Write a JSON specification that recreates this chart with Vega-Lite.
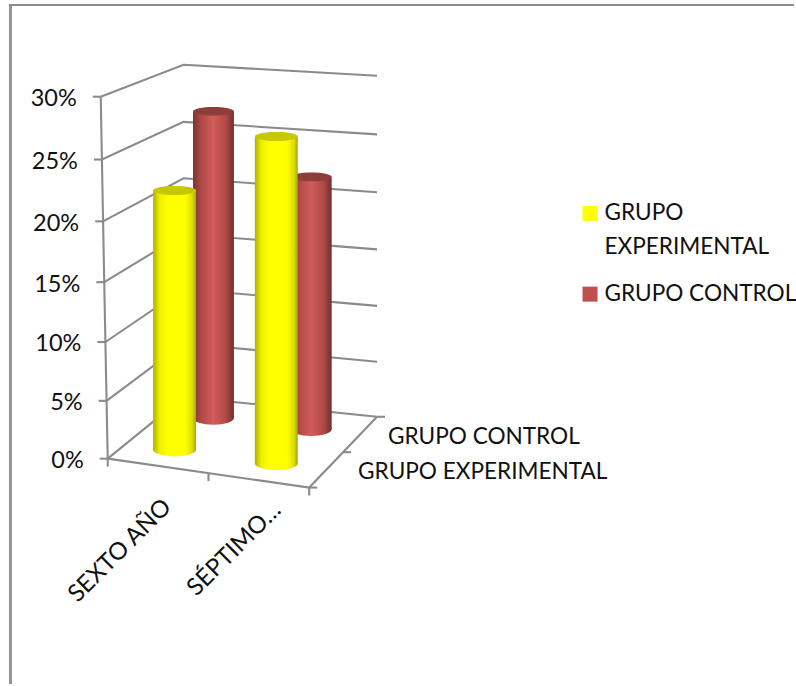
{
  "$schema": "https://vega.github.io/schema/vega-lite/v6.json",
  "autosize": {"type": "fit", "contains": "padding"},
  "width": 796,
  "height": 686,
  "background": "white",
  "padding": 0,
  "config": {"view": {"stroke": null}, "text": {"font": "Lato", "fontSize": 22.6, "color": "#111111"}},
  "datasets": {
    "niveles": [{"pct": 0}, {"pct": 5}, {"pct": 10}, {"pct": 15}, {"pct": 20}, {"pct": 25}, {"pct": 30}],
    "barras": [
      {"categoria": "SEXTO AÑO", "grupo": "GRUPO EXPERIMENTAL", "valor": 22},
      {"categoria": "SEXTO AÑO", "grupo": "GRUPO CONTROL", "valor": 27},
      {"categoria": "SÉPTIMO…", "grupo": "GRUPO EXPERIMENTAL", "valor": 27},
      {"categoria": "SÉPTIMO…", "grupo": "GRUPO CONTROL", "valor": 22}
    ]
  },
  "data": {"name": "niveles"},
  "transform": [
    {"calculate": "[{e:'FL',u:0,d:0,o:0},{e:'BL',u:0,d:1,o:1},{e:'BR',u:1,d:1,o:2},{e:'FR',u:1,d:0,o:3},{e:'FM',u:0.5,d:0,o:4},{e:'RM',u:1,d:0.5,o:5}]", "as": "c"},
    {"flatten": ["c"]},
    {"calculate": "datum.c.e", "as": "e"},
    {"calculate": "datum.c.u", "as": "u"},
    {"calculate": "datum.c.d", "as": "d"},
    {"calculate": "datum.c.o", "as": "o"},
    {"calculate": "datum.pct/5", "as": "n"},
    {"calculate": "(1-datum.d)*(57.5+2.5*datum.u)+datum.d*(53.4+1.5*datum.u)", "as": "a"},
    {"calculate": "0.5-0.15*datum.d", "as": "b"},
    {"calculate": "(1-datum.d)*(108+202*datum.u)+datum.d*(184+194*datum.u)-7*(1-datum.d)*(1-datum.u)*datum.pct/30", "as": "X"},
    {"calculate": "(1-datum.d)*(460+29*datum.u)+datum.d*(398+20*datum.u)-(datum.a*datum.n+datum.b*datum.n*datum.n)", "as": "Y"}
  ],
  "encoding": {
    "x": {"field": "X", "type": "quantitative", "axis": null, "scale": {"domain": [0, 796], "nice": false, "zero": false}},
    "y": {"field": "Y", "type": "quantitative", "axis": null, "scale": {"domain": [686, 0], "nice": false, "zero": false}}
  },
  "layer": [
    {
      "transform": [{"filter": "datum.pct==0 && datum.e=='FL'"}, {"calculate": "10.5", "as": "Xm"}, {"calculate": "4", "as": "Ya"}, {"calculate": "686", "as": "Yb"}],
      "mark": {"type": "rule", "stroke": "#959595", "strokeWidth": 3},
      "encoding": {"x": {"field": "Xm", "type": "quantitative"}, "y": {"field": "Ya", "type": "quantitative"}, "y2": {"field": "Yb"}}
    },
    {
      "transform": [{"filter": "datum.pct==0 && datum.e=='FL'"}, {"calculate": "5", "as": "Ym"}, {"calculate": "9", "as": "Xa"}, {"calculate": "796", "as": "Xb"}],
      "mark": {"type": "rule", "stroke": "#8c8c8c", "strokeWidth": 2},
      "encoding": {"y": {"field": "Ym", "type": "quantitative"}, "x": {"field": "Xa", "type": "quantitative"}, "x2": {"field": "Xb"}}
    },
    {
      "transform": [{"filter": "indexof(['FL','BL','BR'],datum.e)>=0"}],
      "mark": {"type": "line", "stroke": "#8b8b8b", "strokeWidth": 2.1},
      "encoding": {"detail": {"field": "pct"}, "order": {"field": "o"}}
    },
    {
      "transform": [{"filter": "datum.e=='FL'"}],
      "mark": {"type": "line", "stroke": "#8b8b8b", "strokeWidth": 2.1},
      "encoding": {"order": {"field": "pct"}}
    },
    {
      "transform": [{"filter": "datum.pct==0 && indexof(['FL','FR','BR'],datum.e)>=0"}, {"calculate": "datum.e=='FL'?0:datum.e=='FR'?1:2", "as": "borde"}],
      "mark": {"type": "line", "stroke": "#8b8b8b", "strokeWidth": 2.1},
      "encoding": {"order": {"field": "borde"}}
    },
    {
      "transform": [{"filter": "datum.e=='FL'"}, {"calculate": "datum.X-8", "as": "Xt"}],
      "mark": {"type": "rule", "stroke": "#8b8b8b", "strokeWidth": 2.1},
      "encoding": {"x2": {"field": "Xt"}}
    },
    {
      "transform": [{"filter": "datum.pct==0 && indexof(['FL','FM','FR'],datum.e)>=0"}, {"calculate": "datum.Y+8", "as": "Yt"}],
      "mark": {"type": "rule", "stroke": "#8b8b8b", "strokeWidth": 2.1},
      "encoding": {"y2": {"field": "Yt"}}
    },
    {
      "transform": [{"filter": "datum.pct==0 && indexof(['FR','RM','BR'],datum.e)>=0"}, {"calculate": "datum.X+8", "as": "Xt"}],
      "mark": {"type": "rule", "stroke": "#8b8b8b", "strokeWidth": 2.1},
      "encoding": {"x2": {"field": "Xt"}}
    },
    {
      "transform": [{"filter": "datum.e=='FL'"}, {"calculate": "datum.X-24", "as": "Xl"}, {"calculate": "datum.Y+2.5", "as": "Yl"}, {"calculate": "datum.pct+'%'", "as": "rotulo"}],
      "mark": {"type": "text", "align": "right", "baseline": "middle", "fontSize": 23.5},
      "encoding": {"x": {"field": "Xl", "type": "quantitative"}, "y": {"field": "Yl", "type": "quantitative"}, "text": {"field": "rotulo"}}
    },
    {
      "data": {"name": "barras"},
      "transform": [
        {"calculate": "datum.grupo=='GRUPO EXPERIMENTAL'?0.25:0.75", "as": "d"},
        {"calculate": "datum.categoria=='SEXTO AÑO'?(datum.d==0.25?0.24:0.25):0.75", "as": "u"},
        {"calculate": "datum.valor/5", "as": "n"},
        {"calculate": "(1-datum.d)*(57.5+2.5*datum.u)+datum.d*(53.4+1.5*datum.u)", "as": "a"},
        {"calculate": "0.5-0.15*datum.d", "as": "b"},
        {"calculate": "(1-datum.d)*(108+202*datum.u)+datum.d*(184+194*datum.u)", "as": "X"},
        {"calculate": "(1-datum.d)*(460+29*datum.u)+datum.d*(398+20*datum.u)", "as": "Y0"},
        {"calculate": "datum.Y0-(datum.a*datum.n+datum.b*datum.n*datum.n)", "as": "Y"},
        {"calculate": "datum.d==0.25?21.5:20.5", "as": "r"},
        {"calculate": "datum.X-datum.r", "as": "Xi"},
        {"calculate": "datum.X+datum.r", "as": "Xd"}
      ],
      "layer": [
        {
          "transform": [{"filter": "datum.grupo=='GRUPO CONTROL'"}],
          "layer": [
            {
              "mark": {"type": "rect", "fill": {"gradient": "linear", "x1": 0, "x2": 1, "y1": 0, "y2": 0, "stops": [{"offset": 0, "color": "#7a3431"}, {"offset": 0.2, "color": "#b04a47"}, {"offset": 0.5, "color": "#d25d5a"}, {"offset": 0.8, "color": "#b04a47"}, {"offset": 1, "color": "#6f2f2c"}]}},
              "encoding": {"x": {"field": "Xi", "type": "quantitative"}, "x2": {"field": "Xd"}, "y": {"field": "Y", "type": "quantitative"}, "y2": {"field": "Y0"}}
            },
            {
              "mark": {"type": "point", "filled": true, "opacity": 1, "size": 1681, "shape": "M -1 0 A 1 0.34 0 1 0 1 0 A 1 0.34 0 1 0 -1 0 Z", "fill": {"gradient": "linear", "x1": 0, "x2": 1, "y1": 0, "y2": 0, "stops": [{"offset": 0, "color": "#7a3431"}, {"offset": 0.2, "color": "#b04a47"}, {"offset": 0.5, "color": "#d25d5a"}, {"offset": 0.8, "color": "#b04a47"}, {"offset": 1, "color": "#6f2f2c"}]}},
              "encoding": {"y": {"field": "Y0", "type": "quantitative"}}
            },
            {
              "mark": {"type": "point", "filled": true, "opacity": 1, "size": 1681, "shape": "M -1 0 A 1 0.21 0 1 0 1 0 A 1 0.21 0 1 0 -1 0 Z", "fill": "#8f3d3a"}
            }
          ]
        },
        {
          "transform": [{"filter": "datum.grupo=='GRUPO EXPERIMENTAL'"}],
          "layer": [
            {
              "mark": {"type": "rect", "fill": {"gradient": "linear", "x1": 0, "x2": 1, "y1": 0, "y2": 0, "stops": [{"offset": 0, "color": "#b0b000"}, {"offset": 0.15, "color": "#eeee00"}, {"offset": 0.35, "color": "#ffff00"}, {"offset": 0.75, "color": "#ffff00"}, {"offset": 0.9, "color": "#e0e000"}, {"offset": 1, "color": "#a8a800"}]}},
              "encoding": {"x": {"field": "Xi", "type": "quantitative"}, "x2": {"field": "Xd"}, "y": {"field": "Y", "type": "quantitative"}, "y2": {"field": "Y0"}}
            },
            {
              "mark": {"type": "point", "filled": true, "opacity": 1, "size": 1849, "shape": "M -1 0 A 1 0.32 0 1 0 1 0 A 1 0.32 0 1 0 -1 0 Z", "fill": {"gradient": "linear", "x1": 0, "x2": 1, "y1": 0, "y2": 0, "stops": [{"offset": 0, "color": "#b0b000"}, {"offset": 0.15, "color": "#eeee00"}, {"offset": 0.35, "color": "#ffff00"}, {"offset": 0.75, "color": "#ffff00"}, {"offset": 0.9, "color": "#e0e000"}, {"offset": 1, "color": "#a8a800"}]}},
              "encoding": {"y": {"field": "Y0", "type": "quantitative"}}
            },
            {
              "mark": {"type": "point", "filled": true, "opacity": 1, "size": 1849, "shape": "M -1 0 A 1 0.21 0 1 0 1 0 A 1 0.21 0 1 0 -1 0 Z", "fill": "#c8c800"}
            }
          ]
        }
      ]
    },
    {
      "data": {"name": "barras"},
      "transform": [
        {"filter": "datum.grupo=='GRUPO EXPERIMENTAL'"},
        {"calculate": "datum.categoria=='SEXTO AÑO'?168:278", "as": "X"},
        {"calculate": "datum.categoria=='SEXTO AÑO'?505:508", "as": "Y"}
      ],
      "mark": {"type": "text", "angle": 315, "align": "right", "baseline": "middle", "fontSize": 24},
      "encoding": {"text": {"field": "categoria"}}
    },
    {
      "data": {"name": "barras"},
      "transform": [
        {"filter": "datum.categoria=='SEXTO AÑO'"},
        {"calculate": "datum.grupo=='GRUPO EXPERIMENTAL'?359:389", "as": "X"},
        {"calculate": "datum.grupo=='GRUPO EXPERIMENTAL'?473.5:438.5", "as": "Y"}
      ],
      "mark": {"type": "text", "align": "left", "baseline": "middle"},
      "encoding": {"text": {"field": "grupo"}}
    },
    {
      "data": {"name": "barras"},
      "transform": [
        {"filter": "datum.categoria=='SEXTO AÑO'"},
        {"calculate": "591.5", "as": "X"},
        {"calculate": "datum.grupo=='GRUPO EXPERIMENTAL'?214:295", "as": "Y"}
      ],
      "mark": {"type": "point", "shape": "square", "filled": true, "opacity": 1, "size": 225},
      "encoding": {"color": {"field": "grupo", "type": "nominal", "legend": null, "scale": {"domain": ["GRUPO EXPERIMENTAL", "GRUPO CONTROL"], "range": ["#ffff00", "#c0504d"]}}}
    },
    {
      "data": {"name": "barras"},
      "transform": [
        {"filter": "datum.categoria=='SEXTO AÑO'"},
        {"calculate": "606", "as": "X"},
        {"calculate": "datum.grupo=='GRUPO EXPERIMENTAL'?203:284", "as": "Y"},
        {"calculate": "datum.grupo=='GRUPO EXPERIMENTAL'?replace(datum.grupo,' ','\\n'):datum.grupo", "as": "etiqueta"}
      ],
      "mark": {"type": "text", "align": "left", "baseline": "top", "lineBreak": "\n", "lineHeight": 34},
      "encoding": {"text": {"field": "etiqueta"}}
    }
  ]
}
